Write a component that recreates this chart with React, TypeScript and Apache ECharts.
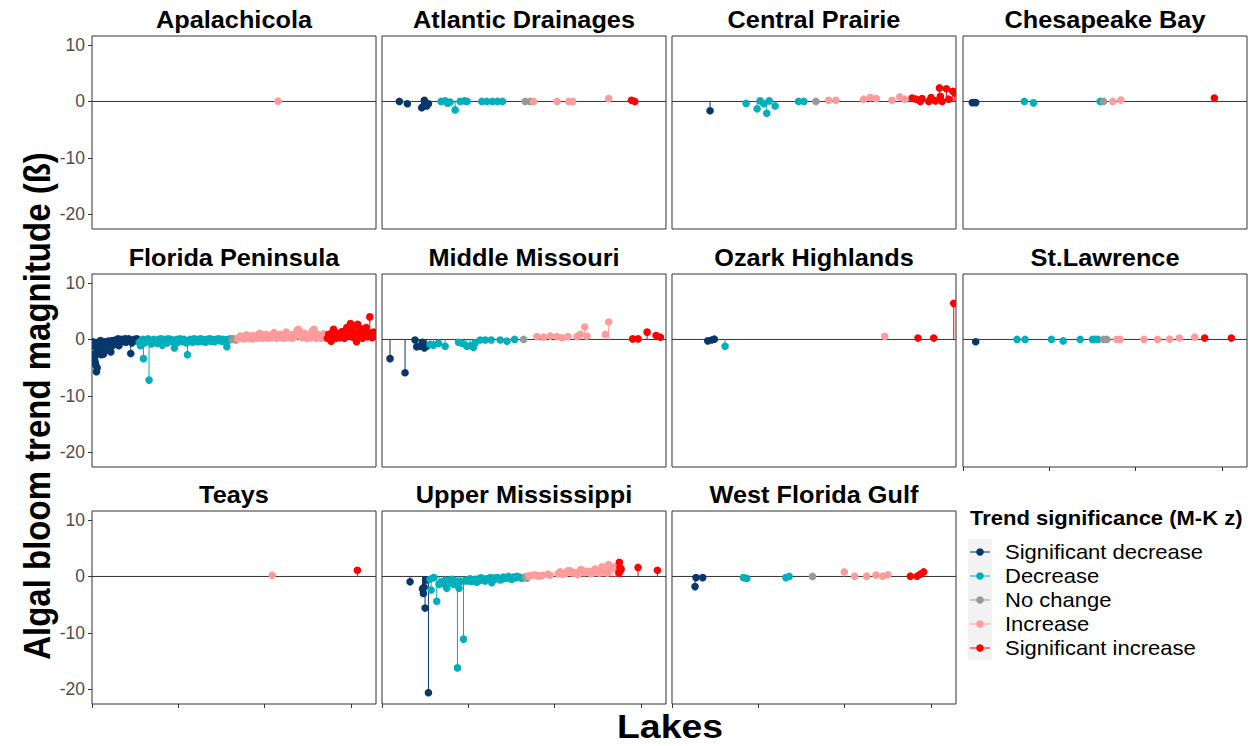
import React, { useEffect, useRef } from 'react';
import * as echarts from 'echarts';

const FONT = '"Liberation Sans", Arial, Helvetica, sans-serif';

const TREND_CLASSES = ['Significant decrease', 'Decrease', 'No change', 'Increase', 'Significant increase'];
const TREND_COLORS = ['#08376B', '#00AFBB', '#999999', '#FF9B9B', '#FF0000'];

const REGIONS = [
  'Apalachicola', 'Atlantic Drainages', 'Central Prairie', 'Chesapeake Bay',
  'Florida Peninsula', 'Middle Missouri', 'Ozark Highlands', 'St.Lawrence',
  'Teays', 'Upper Mississippi', 'West Florida Gulf',
];

const Y_TICKS = [-20, -10, 0, 10];
const X_TICKS = [0, 1000, 2000, 3000];
const Y_MIN = -22.6;
const Y_MAX = 11.6;
const X_MIN = 0;
const X_MAX = 3290;

// Lakes per ecoregion: [lake rank, trend magnitude, trend class index]
const apalachicola = [[2154, 0.05, 3]];

const atlanticDrainages = [
  [201, 0.0, 0], [294, -0.4, 0], [460, -1.1, 0], [476, -0.9, 0], [491, 0.2, 0], [518, -0.8, 0], [538, -0.4, 0],
  [685, 0.0, 1], [731, 0.1, 1], [760, -0.3, 1], [789, -0.1, 1], [847, -1.5, 1], [905, 0.0, 1], [955, 0.1, 1], [986, 0.0, 1],
  [1156, 0.0, 1], [1214, 0.0, 1], [1280, 0.0, 1], [1338, 0.0, 1], [1396, 0.0, 1],
  [1659, 0.0, 2], [1717, 0.0, 2],
  [1756, 0.0, 3], [2027, 0.0, 3], [2162, 0.0, 3], [2208, 0.0, 3], [2626, 0.5, 3],
  [2889, 0.2, 4], [2928, 0.0, 4],
];

const centralPrairie = [
  [441, -1.65, 0],
  [859, -0.35, 1], [986, -1.3, 1], [1021, 0.1, 1], [1064, -0.4, 1], [1098, -2.1, 1], [1126, 0.1, 1], [1195, -0.8, 1],
  [1466, 0.0, 1], [1528, 0.0, 1],
  [1667, 0.0, 2],
  [1814, 0.2, 3], [1899, 0.2, 3], [2220, 0.4, 3], [2297, 0.7, 3], [2367, 0.5, 3], [2549, 0.2, 3], [2638, 0.8, 3], [2695, 0.4, 3],
  [2781, 0.6, 4], [2827, 0.4, 4], [2877, 0.0, 4], [2897, 0.5, 4], [2974, 0.0, 4], [3001, 0.7, 4], [3051, 0.1, 4],
  [3098, 2.4, 4], [3109, 0.9, 4], [3129, 0.0, 4], [3179, 2.25, 4], [3206, 0.4, 4], [3252, 1.8, 4], [3276, 1.5, 4],
];

const chesapeakeBay = [
  [108, -0.2, 0], [147, -0.2, 0],
  [711, 0.0, 1], [816, -0.25, 1], [1589, 0.0, 1],
  [1628, 0.0, 2],
  [1736, 0.0, 3], [1829, 0.25, 3],
  [2912, 0.6, 4],
];

const floridaSigDecrease = [
  [12, -0.4], [20, -1.2], [26, -2.6], [32, -3.3], [38, -4.1], [44, -4.6], [52, -5.7], [60, -5.0], [68, -1.9], [78, -0.5],
  [88, -1.2], [98, -0.2], [108, -2.7], [120, -1.6], [132, -2.6], [144, -0.4], [152, -2.0], [165, -0.8], [178, -1.1], [190, -0.3],
  [205, -0.6], [218, -2.2], [232, -0.2], [245, -1.0], [258, -0.4], [272, -0.1], [285, -0.6], [300, 0.1], [312, -1.1], [325, -0.3],
  [340, 0.0], [355, -0.4], [368, -0.2], [382, 0.1], [396, -0.5], [410, -0.1], [425, 0.1], [438, -0.3], [449, -2.5], [462, -0.6],
  [476, -0.1], [490, 0.0], [505, -0.2], [520, 0.1], [535, -0.1],
];
const floridaDecrease = [
  [548, -0.5], [562, -1.1], [575, -0.2], [588, 0.0], [596, -3.4], [610, -0.6], [622, -0.1], [636, -0.3], [648, 0.1], [661, -7.2],
  [675, -0.2], [690, -0.8], [702, -0.1], [716, 0.0], [730, -0.4], [745, -0.2], [758, -0.7], [772, 0.0], [786, -0.2], [800, 0.1],
  [815, -1.0], [828, -0.1], [842, 0.0], [856, -0.3], [870, -0.6], [884, 0.1], [898, -0.2], [912, 0.0], [926, -0.4], [940, -0.1],
  [955, -1.5], [968, -0.3], [982, 0.0], [996, -0.5], [1010, -0.2], [1024, 0.1], [1038, -0.1], [1052, -0.4], [1066, 0.0], [1080, -0.2],
  [1094, -0.6], [1106, -2.7], [1120, -0.3], [1135, 0.0], [1150, -0.1], [1165, -0.5], [1180, 0.1], [1195, -0.2], [1210, 0.0], [1225, -0.4],
  [1240, -0.1], [1255, 0.1], [1270, -0.3], [1285, 0.0], [1300, -0.2], [1315, -0.5], [1330, 0.0], [1345, -0.1], [1360, 0.1], [1375, -0.3],
  [1390, 0.0], [1405, -0.2], [1420, -0.4], [1435, 0.0], [1450, -0.1], [1465, 0.1], [1480, -0.2], [1495, 0.0], [1510, -0.3], [1525, 0.0],
  [1540, -0.1], [1555, -0.2], [1562, -1.3], [1578, 0.0], [1592, -0.1], [1606, 0.1],
];
const floridaNoChange = [[1625, 0.0], [1640, 0.1], [1655, 0.0], [1670, -0.1]];
const floridaIncrease = [
  [1690, 0.1], [1705, 0.3], [1718, 0.6], [1732, 0.2], [1746, 0.4], [1760, 0.1], [1774, 0.5], [1788, 0.8], [1802, 0.3], [1816, 0.2],
  [1830, 0.6], [1844, 0.4], [1858, 0.1], [1872, 0.7], [1886, 0.3], [1900, 0.5], [1914, 0.2], [1928, 0.8], [1942, 1.1], [1956, 0.4],
  [1970, 0.2], [1984, 0.6], [1998, 0.3], [2012, 0.9], [2026, 0.5], [2040, 0.2], [2054, 0.7], [2068, 0.4], [2082, 0.3], [2096, 1.0],
  [2110, 1.2], [2124, 0.5], [2138, 0.2], [2152, 0.8], [2166, 0.4], [2180, 0.9], [2194, 0.3], [2208, 0.6], [2222, 0.2], [2236, 0.7],
  [2250, 1.3], [2264, 0.5], [2278, 0.3], [2292, 0.8], [2306, 0.4], [2320, 0.2], [2334, 0.9], [2348, 0.5], [2362, 1.0], [2376, 1.6],
  [2390, 1.8], [2404, 1.5], [2418, 0.6], [2432, 0.3], [2446, 0.8], [2460, 1.1], [2474, 0.4], [2488, 0.2], [2502, 0.7], [2516, 0.9],
  [2530, 0.3], [2544, 1.2], [2558, 1.6], [2572, 1.8], [2586, 0.5], [2600, 0.2], [2614, 0.9], [2628, 0.4], [2642, 0.6], [2656, 0.2],
  [2670, 0.8], [2684, 1.0], [2698, 0.3], [2712, 0.5],
];
const floridaSigIncrease = [
  [2728, 0.2], [2742, 0.9], [2756, 0.4], [2770, -0.3], [2784, 1.2], [2798, 1.8], [2812, 0.6], [2826, 0.2], [2840, 1.1], [2854, 0.8],
  [2868, 0.3], [2882, 0.5], [2896, 1.4], [2910, 0.9], [2924, 0.2], [2938, 1.6], [2952, 2.1], [2966, 0.7], [2980, 1.0], [2994, 2.8],
  [3008, 1.3], [3022, 0.4], [3036, 2.4], [3050, 1.0], [3064, -0.4], [3078, 2.7], [3092, 1.5], [3106, 0.6], [3120, 1.9], [3134, 0.2],
  [3148, 1.4], [3162, 0.8], [3176, 2.1], [3190, 0.5], [3204, 1.2], [3218, 4.0], [3232, 0.9], [3246, 0.3], [3260, 1.3], [3274, 0.6],
];
const floridaPeninsula = [
  ...floridaSigDecrease.map(([r, v]) => [r, v, 0]),
  ...floridaDecrease.map(([r, v]) => [r, v, 1]),
  ...floridaNoChange.map(([r, v]) => [r, v, 2]),
  ...floridaIncrease.map(([r, v]) => [r, v, 3]),
  ...floridaSigIncrease.map(([r, v]) => [r, v, 4]),
];

const middleMissouri = [
  [93, -3.4, 0], [267, -5.9, 0], [383, -0.1, 0], [402, -1.3, 0], [441, -1.2, 0], [468, -0.5, 0], [491, -1.5, 0], [518, -1.2, 0],
  [557, -0.9, 1], [596, -1.0, 1], [654, -0.7, 1], [731, -1.2, 1], [886, -0.5, 1], [932, -0.7, 1], [982, -1.2, 1], [1021, -1.1, 1],
  [1060, -1.4, 1], [1079, -0.6, 1], [1137, -0.1, 1], [1195, -0.1, 1], [1265, -0.1, 1], [1369, -0.1, 1], [1447, -0.3, 1], [1536, 0.0, 1],
  [1640, 0.0, 2],
  [1795, 0.5, 3], [1872, 0.4, 3], [1949, 0.6, 3], [2027, 0.5, 3], [2085, 0.3, 3], [2154, 0.5, 3], [2259, 0.5, 3], [2297, 0.9, 3],
  [2348, 2.2, 3], [2375, 0.6, 3], [2587, 0.9, 3], [2626, 3.1, 3],
  [2904, 0.1, 4], [2966, 0.1, 4], [3071, 1.3, 4], [3175, 0.7, 4], [3225, 0.4, 4],
];

const ozarkHighlands = [
  [414, -0.25, 0], [460, -0.1, 0], [491, 0.05, 0],
  [615, -1.2, 1],
  [2464, 0.55, 3],
  [2850, 0.25, 4], [3032, 0.25, 4], [3264, 6.4, 4],
];

const stLawrence = [
  [147, -0.4, 0],
  [626, 0.0, 1], [719, 0.0, 1], [1025, 0.0, 1], [1160, -0.25, 1], [1357, 0.0, 1], [1500, 0.0, 1], [1531, 0.0, 1], [1562, 0.0, 1],
  [1628, 0.0, 2], [1667, 0.0, 2],
  [1783, 0.0, 3], [1821, 0.0, 3], [2096, 0.0, 3], [2254, 0.0, 3], [2393, 0.05, 3], [2506, 0.25, 3], [2684, 0.4, 3],
  [2800, 0.25, 4], [3109, 0.25, 4],
];

const teays = [[2088, 0.2, 3], [3074, 1.1, 4]];

const upperMississippi = [
  [325, -0.95, 0], [470, -2.2, 0], [480, -3.0, 0], [488, -1.9, 0], [499, -5.6, 0], [512, -0.6, 0], [538, -20.6, 0],
  [557, -0.5, 1], [569, -2.4, 1], [600, -0.2, 1], [634, -4.4, 1], [660, -1.4, 1], [692, -0.95, 1], [712, -1.3, 1], [739, -0.7, 1],
  [750, -2.1, 1], [770, -1.0, 1], [789, -1.1, 1], [810, -0.5, 1], [830, -1.4, 1], [847, -0.8, 1], [874, -16.2, 1], [893, -2.1, 1],
  [912, -0.9, 1], [944, -11.1, 1], [965, -0.8, 1], [985, -0.6, 1], [1002, -0.8, 1], [1020, -0.4, 1], [1040, -0.9, 1], [1060, -0.6, 1],
  [1079, -0.5, 1], [1098, -1.0, 1], [1118, -0.8, 1], [1137, -0.3, 1], [1156, -0.3, 1], [1175, -0.7, 1], [1195, -0.8, 1], [1214, -0.4, 1],
  [1234, -0.5, 1], [1253, -0.2, 1], [1272, -1.1, 1], [1292, -0.3, 1], [1311, -0.5, 1], [1330, -0.2, 1], [1350, -0.3, 1], [1370, -0.6, 1],
  [1389, -0.5, 1], [1408, -0.1, 1], [1427, -0.3, 1], [1446, -0.2, 1], [1466, 0.0, 1], [1485, -0.4, 1], [1505, -0.5, 1], [1524, -0.1, 1],
  [1543, -0.2, 1], [1563, 0.0, 1], [1590, -0.1, 1], [1615, -0.3, 1], [1640, -0.2, 1],
  [1660, -0.1, 2], [1679, -0.3, 2],
  [1700, 0.1, 3], [1730, 0.2, 3], [1775, 0.3, 3], [1800, 0.1, 3], [1833, 0.1, 3], [1860, 0.2, 3], [1922, 0.4, 3], [1950, 0.2, 3],
  [2040, 0.5, 3], [2065, 0.8, 3], [2090, 0.4, 3], [2123, 0.5, 3], [2150, 1.0, 3], [2181, 1.0, 3], [2210, 0.6, 3], [2239, 0.7, 3],
  [2270, 0.3, 3], [2300, 1.2, 3], [2317, 1.1, 3], [2340, 0.7, 3], [2365, 0.9, 3], [2394, 0.9, 3], [2420, 0.5, 3], [2452, 0.7, 3],
  [2470, 1.3, 3], [2491, 0.9, 3], [2520, 0.6, 3], [2549, 1.7, 3], [2570, 1.2, 3], [2587, 1.1, 3], [2610, 0.6, 3], [2626, 2.1, 3],
  [2650, 1.5, 3], [2672, 1.6, 3], [2703, 1.7, 3], [2720, 1.2, 3],
  [2745, 0.6, 4], [2750, 2.5, 4], [2756, 1.6, 4], [2761, 1.0, 4], [2770, 1.3, 4], [2966, 1.6, 4], [3191, 1.1, 4],
];

const westFloridaGulf = [
  [267, -1.8, 0], [279, -0.2, 0], [356, -0.2, 0],
  [828, -0.2, 1], [866, -0.35, 1], [1319, -0.2, 1], [1357, 0.0, 1],
  [1628, 0.0, 2],
  [1996, 0.8, 3], [2116, 0.05, 3], [2255, 0.05, 3], [2363, 0.25, 3], [2440, 0.05, 3], [2502, 0.3, 3],
  [2761, 0.05, 4], [2839, 0.05, 4], [2877, 0.4, 4], [2916, 0.8, 4],
];

const REGION_LAKES = [
  apalachicola, atlanticDrainages, centralPrairie, chesapeakeBay,
  floridaPeninsula, middleMissouri, ozarkHighlands, stLawrence,
  teays, upperMississippi, westFloridaGulf,
];

// Facet layout (pixels)
const PANEL_LEFT = [92, 382, 672, 963];
const PANEL_TOP = [36, 274, 511];
const PANEL_W = 284;
const PANEL_H = 193;
const DOT_R = 3.8;

function textEl(text: string, x: number, y: number, font: string, align: string, extra: any = {}) {
  return {
    type: 'text',
    x,
    y,
    silent: true,
    ...extra,
    style: {
      text,
      font,
      fill: '#000000',
      textAlign: align,
      align,
      textVerticalAlign: 'middle',
      verticalAlign: 'middle',
    },
  };
}

function buildOption() {
  const grids: any[] = [];
  const xAxes: any[] = [];
  const yAxes: any[] = [];
  const series: any[] = [];
  const graphics: any[] = [];

  const stem = (_params: any, api: any) => {
    const x = api.value(0);
    const y = api.value(1);
    const c = api.value(2);
    const a = api.coord([x, 0]);
    const b = api.coord([x, y]);
    return {
      type: 'line',
      shape: { x1: a[0], y1: a[1], x2: b[0], y2: b[1] },
      style: { stroke: TREND_COLORS[c], lineWidth: 1 },
    };
  };
  const dot = (_params: any, api: any) => {
    const x = api.value(0);
    const y = api.value(1);
    const c = api.value(2);
    const p = api.coord([x, y]);
    return {
      type: 'circle',
      shape: { cx: p[0], cy: p[1], r: DOT_R },
      style: { fill: TREND_COLORS[c] },
    };
  };

  REGIONS.forEach((name, i) => {
    const row = Math.floor(i / 4);
    const col = i % 4;
    const left = PANEL_LEFT[col];
    const top = PANEL_TOP[row];
    const bottomTicks = row === 2 || i === 7;

    grids.push({
      left, top, width: PANEL_W, height: PANEL_H,
      show: true, borderColor: '#333333', borderWidth: 1, backgroundColor: 'rgba(0,0,0,0)',
      containLabel: false,
    });
    xAxes.push({
      type: 'value', gridIndex: i, min: X_MIN, max: X_MAX,
      axisLine: { show: false, onZero: false },
      splitLine: { show: false },
      axisLabel: { show: false },
      axisTick: { show: bottomTicks, length: 4, customValues: X_TICKS, lineStyle: { color: '#333333', width: 1 } },
    });
    yAxes.push({
      type: 'value', gridIndex: i, min: Y_MIN, max: Y_MAX,
      axisLine: { show: false, onZero: false },
      splitLine: { show: false },
      axisTick: { show: col === 0, length: 4, customValues: Y_TICKS, lineStyle: { color: '#333333', width: 1 } },
      axisLabel: {
        show: col === 0, customValues: Y_TICKS, fontSize: 17.5, color: '#4D4D4D',
        fontFamily: FONT, margin: 7,
      },
    });
    series.push({
      type: 'line', xAxisIndex: i, yAxisIndex: i, silent: true, z: 1,
      data: [[X_MIN, 0], [X_MAX, 0]], symbol: 'none', showSymbol: false,
      lineStyle: { color: '#333333', width: 1 },
    });
    series.push({
      type: 'custom', name: name + ' stems', xAxisIndex: i, yAxisIndex: i, z: 2, clip: true,
      renderItem: stem, data: REGION_LAKES[i], silent: true,
    });
    series.push({
      type: 'custom', name: name + ' lakes', xAxisIndex: i, yAxisIndex: i, z: 3, clip: true,
      renderItem: dot, data: REGION_LAKES[i], silent: true,
    });

    graphics.push(textEl(name, left + PANEL_W / 2, top - 16.5, `bold 23px ${FONT}`, 'center', { scaleX: 1.1 }));
  });

  // axis titles
  graphics.push(textEl('Algal bloom trend magnitude (ß)', 37, 406, `bold 33px ${FONT}`, 'center', { rotation: Math.PI / 2, scaleY: 1.1 }));
  graphics.push(textEl('Lakes', 670, 727, `bold 34px ${FONT}`, 'center', { scaleX: 1.1 }));

  // legend
  graphics.push(textEl('Trend significance (M-K z)', 970, 518, `bold 20px ${FONT}`, 'left', { scaleX: 1.1 }));
  graphics.push({
    type: 'rect', silent: true,
    shape: { x: 968, y: 539, width: 24, height: 121 },
    style: { fill: '#F2F2F2' },
  });
  const keyY = [552, 576, 600, 624, 648];
  TREND_CLASSES.forEach((label, k) => {
    const y = keyY[k];
    graphics.push({
      type: 'line', silent: true,
      shape: { x1: 970, y1: y, x2: 990, y2: y },
      style: { stroke: TREND_COLORS[k], lineWidth: 1 },
    });
    graphics.push({
      type: 'circle', silent: true,
      shape: { cx: 980, cy: y, r: DOT_R },
      style: { fill: TREND_COLORS[k] },
    });
    graphics.push(textEl(label, 1005, y, `20px ${FONT}`, 'left', { scaleX: 1.1 }));
  });

  return {
    animation: false,
    backgroundColor: '#FFFFFF',
    textStyle: { fontFamily: FONT },
    grid: grids,
    xAxis: xAxes,
    yAxis: yAxes,
    series,
    graphic: { elements: graphics },
  };
}

export default function App() {
  const ref = useRef<HTMLDivElement>(null);
  useEffect(() => {
    if (!ref.current) return;
    const chart = echarts.init(ref.current, null, { renderer: 'svg' });
    chart.setOption(buildOption());
    return () => chart.dispose();
  }, []);
  return (
    <div
      ref={ref}
      style={{ position: 'absolute', left: 0, top: 0, width: 1259, height: 746, background: '#FFFFFF' }}
    />
  );
}
